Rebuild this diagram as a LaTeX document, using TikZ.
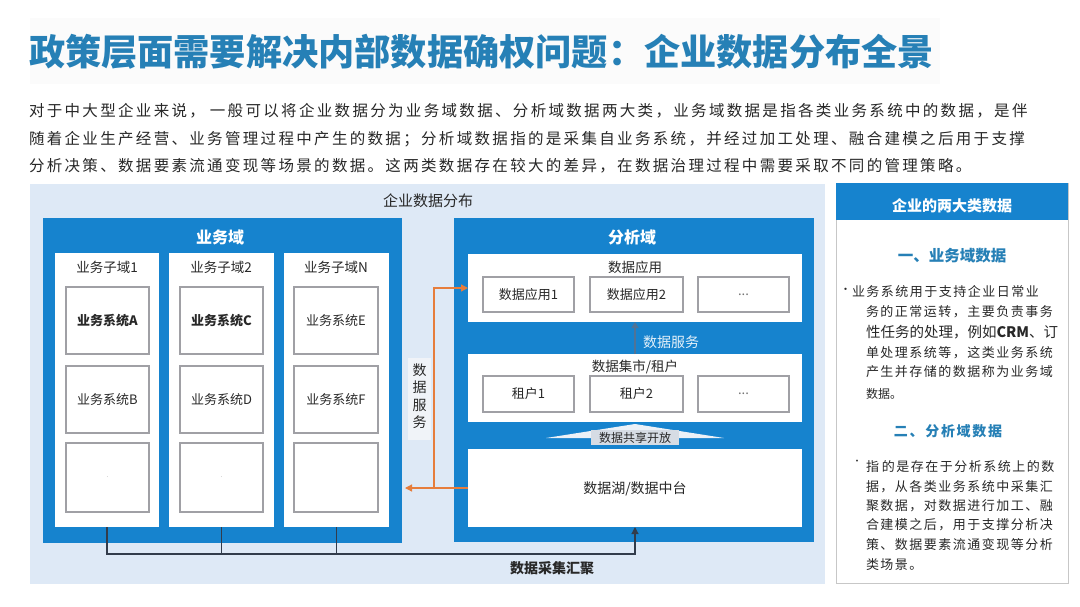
\documentclass[tikz,border=0pt]{standalone}
\usepackage{fontspec}
\setmainfont{Noto Sans CJK SC}
\usetikzlibrary{arrows.meta}
\definecolor{titleblue}{RGB}{38,128,182}
\definecolor{boxblue}{RGB}{22,131,206}
\definecolor{bgblue}{RGB}{222,233,246}
\definecolor{orangeln}{RGB}{230,125,60}
\definecolor{connln}{RGB}{50,60,75}
\definecolor{txt}{RGB}{40,40,40}
\definecolor{sysborder}{RGB}{160,160,165}
\definecolor{sharefill}{RGB}{236,241,247}
\definecolor{sharebox}{RGB}{214,220,228}
\definecolor{svcarrow}{RGB}{80,115,150}
\definecolor{vlabelbg}{RGB}{240,243,248}
\newcommand{\fsz}[2]{\fontsize{#1}{#2}\selectfont}
\newcommand{\rbox}[7]{\node[#2, minimum width={#5-#3}, minimum height={#6-#4}] (#1) at ({(#3+#5)/2},{(#4+#6)/2}) {#7};}
\begin{document}
\begin{tikzpicture}[x=1pt, y=-1pt,
  every node/.style={inner sep=0pt, outer sep=0pt},
  bluepane/.style={fill=boxblue, draw=none},
  whitepane/.style={fill=white, draw=none},
  sysbox/.style={fill=white, draw=sysborder, line width=1.1pt, text=txt, font=\fsz{13}{15}},
  sysboxb/.style={sysbox, font=\fsz{13}{15}\bfseries},
  paneltitle/.style={text=white, font=\fsz{16}{18}\bfseries},
  lbl/.style={text=txt, font=\fsz{13.5}{16}},
  para/.style={anchor=west, text=txt, font=\fsz{15.5}{18}\addfontfeatures{LetterSpace=15}},
  side/.style={anchor=west, text=txt, font=\fsz{13}{15}\addfontfeatures{LetterSpace=11.5}},
  conn/.style={draw=connln, line width=1.2pt},
  orangeconn/.style={draw=orangeln, line width=1.3pt}
]
\useasboundingbox (0,0) rectangle (1080,606);
\fill[white] (0,0) rectangle (1080,606);
% title band
\fill[black!1.5] (30,18) rectangle (940,84);
\node[anchor=west, text=titleblue, font=\fsz{36.2}{40}\bfseries] (title) at (29,52)
  {政策层面需要解决内部数据确权问题：企业数据分布全景};
% paragraph
\node[para] (p1) at (29,111) {对于中大型企业来说，\hspace{5pt}一般可以将企业数据分为业务域数据、分析域数据两大类，业务域数据是指各类业务系统中的数据，是伴};
\node[para] (p2) at (29,139) {随着企业生产经营、业务管理过程中产生的数据；分析域数据指的是采集自业务系统，并经过加工处理、融合建模之后用于支撑};
\node[para] (p3) at (29,166) {分析决策、数据要素流通变现等场景的数据。这两类数据存在较大的差异，在数据治理过程中需要采取不同的管理策略。};

% diagram background
\rbox{diag}{fill=bgblue}{30}{184}{825}{584}{}
\node[text=txt, font=\fsz{15}{18}] (diagtitle) at (428,201) {企业数据分布};

% ---- business domain
\rbox{biz}{bluepane}{43}{218}{402}{543}{}
\node[paneltitle] (biztitle) at (220,237) {业务域};
\rbox{col1}{whitepane}{55}{253}{159}{527}{}
\rbox{col2}{whitepane}{169}{253}{274}{527}{}
\rbox{col3}{whitepane}{284}{253}{389}{527}{}
\node[lbl] (c1t) at (107,267) {业务子域1};
\node[lbl] (c2t) at (221,267) {业务子域2};
\node[lbl] (c3t) at (336,267) {业务子域N};
\rbox{sA}{sysboxb}{66}{287}{149}{354}{业务系统A}
\rbox{sC}{sysboxb}{180}{287}{263}{354}{业务系统C}
\rbox{sE}{sysbox}{294}{287}{378}{354}{业务系统E}
\rbox{sB}{sysbox}{66}{366}{149}{433}{业务系统B}
\rbox{sD}{sysbox}{180}{366}{263}{433}{业务系统D}
\rbox{sF}{sysbox}{294}{366}{378}{433}{业务系统F}
\rbox{s1}{sysbox, text=black!45, font=\fsz{6}{7}}{66}{443}{149}{512}{.}
\rbox{s2}{sysbox, text=black!45, font=\fsz{6}{7}}{180}{443}{263}{512}{.}
\rbox{s3}{sysbox}{294}{443}{378}{512}{}

% ---- analysis domain
\rbox{ana}{bluepane}{454}{218}{814}{542}{}
\node[paneltitle] (anatitle) at (632,237) {分析域};
\rbox{app}{whitepane}{468}{254}{802}{322}{}
\node[lbl] (apptitle) at (635,267) {数据应用};
\rbox{a1}{sysbox}{483}{277}{574}{312}{数据应用1}
\rbox{a2}{sysbox}{590}{277}{683}{312}{数据应用2}
\rbox{a3}{sysbox, text=black!55}{698}{277}{789}{312}{...}
\rbox{mart}{whitepane}{468}{354}{802}{422}{}
\node[lbl] (marttitle) at (635,367) {数据集市/租户};
\rbox{t1}{sysbox}{483}{376}{574}{412}{租户1}
\rbox{t2}{sysbox}{590}{376}{683}{412}{租户2}
\rbox{t3}{sysbox, text=black!55}{698}{376}{789}{412}{...}
\rbox{lake}{whitepane}{468}{449}{802}{527}{}
\node[text=txt, font=\fsz{14}{16}] (laketitle) at (635,489) {数据湖/数据中台};

% data service arrow between mart and app
\draw[draw=svcarrow, line width=2.2pt, -{Triangle[length=6pt,width=7pt]}] (mart.north) -- (app.south);
\node[anchor=west, text=white!88!boxblue, font=\fsz{14}{16}] (svclabel) at (643,342) {数据服务};

% shared/open wide arrow
\fill[sharefill] (546,438) -- (635,424) -- (724,438) -- cycle;
\rbox{share}{fill=sharebox, text=txt, font=\fsz{12}{14}}{591}{430}{679}{445}{数据共享开放}

% collection connectors
\coordinate (bus) at (107,554);
\draw[conn, -{Triangle[length=7pt,width=7pt]}] (col1.south) -- (col1.south |- bus) -| (lake.south);
\draw[conn] (col2.south) -- (col2.south |- bus);
\draw[conn] (col3.south) -- (col3.south |- bus);
\node[text=txt, font=\fsz{14}{16}\bfseries] (collect) at (552,568) {数据采集汇聚};

% orange data service
\coordinate (obr) at (434,489);
\draw[orangeconn, -{Triangle[length=7pt,width=7pt]}] (lake.west) -- ([xshift=3pt]biz.east |- lake.west);
\draw[orangeconn, -{Triangle[length=7pt,width=7pt]}] (obr) |- (app.west);
\fill[vlabelbg] (408,358) rectangle (431,440);
\node[align=center, text=txt, font=\fsz{14}{17.5}] (vlabel) at (419.5,396) {数\\据\\服\\务};

% ---- right info panel
\rbox{info}{fill=white, draw=black!22, line width=1pt}{836}{183}{1068}{583}{}
\rbox{infohead}{fill=boxblue}{836}{183}{1068}{220}{}
\node[text=white, font=\fsz{15}{18}\bfseries] (infotitle) at (952,206) {企业的两大类数据};
\node[text=titleblue, font=\fsz{15.5}{18}\bfseries] (h1) at (952,256) {一、业务域数据};
\node[anchor=east, text=txt, font=\fsz{11}{13}] (b1) at (851,291) {·};
\node[side] (l1) at (852,292) {业务系统用于支持企业日常业};
\node[side] (l2) at (866,312) {务的正常运转，主要负责事务};
\node[anchor=west, text=txt, font=\fsz{14.5}{17}] (l3) at (866,332) {性任务的处理，例如\textbf{CRM}、订};
\node[side] (l4) at (866,353) {单处理系统等，这类业务系统};
\node[side] (l5) at (866,372) {产生并存储的数据称为业务域};
\node[anchor=west, text=txt, font=\fsz{12}{14}] (l6) at (866,394) {数据。};
\node[text=titleblue, font=\fsz{14}{16}\bfseries\addfontfeatures{LetterSpace=12}] (h2) at (948,431) {二、分析域数据};
\node[text=txt, font=\fsz{9}{10}] (b2) at (857,462) {·};
\node[side] (m1) at (866,467) {指\hspace{3pt}的是存在于分析系统上的数};
\node[side] (m2) at (866,487) {据，从各类业务系统中采集汇};
\node[side] (m3) at (866,506) {聚数据，对数据进行加工、融};
\node[side] (m4) at (866,525) {合建模之后，用于支撑分析决};
\node[side] (m5) at (866,545) {策、数据要素流通变现等分析};
\node[side] (m6) at (866,565) {类场景。};
\end{tikzpicture}
\end{document}
